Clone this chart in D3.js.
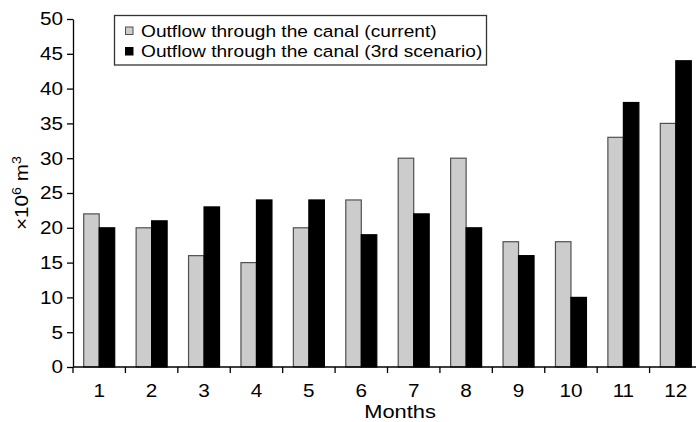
<!DOCTYPE html>
<html>
<head>
<meta charset="utf-8">
<script src="https://cdn.jsdelivr.net/npm/d3@7"></script>
<style>
  html, body { margin: 0; padding: 0; background: #fff; }
  svg { display: block; font-family: "Liberation Sans", Arial, Helvetica, sans-serif; }
</style>
</head>
<body>
<svg id="chart" width="696" height="422"></svg>
<script>
// Monthly outflow through the canal, in 10^6 m^3
const months = ["1", "2", "3", "4", "5", "6", "7", "8", "9", "10", "11", "12"];
const currentOutflow = [22, 20, 16, 15, 20, 24, 30, 30, 18, 18, 33, 35];
const scenario3Outflow = [20, 21, 23, 24, 24, 19, 22, 20, 16, 10, 38, 44];
const yTicks = [0, 5, 10, 15, 20, 25, 30, 35, 40, 45, 50];
const seriesNames = ["Outflow through the canal (current)", "Outflow through the canal (3rd scenario)"];

const svg = d3.select("#chart");
const plotLeft = 73, plotRight = 702, plotTop = 19, plotBottom = 367;
// the lettering is a slightly wide grotesque: stretch glyphs horizontally
const stretch = 1.12;

const x = d3.scaleBand().domain(months).range([plotLeft, plotRight]).paddingInner(0).paddingOuter(0);
const y = d3.scaleLinear().domain([0, 50]).range([plotBottom, plotTop]);

const barW = 15.5;
const series = [
  { values: currentOutflow, fill: "#cccccc", stroke: "#505050", offset: -barW },
  { values: scenario3Outflow, fill: "#000000", stroke: "#000000", offset: 0 }
];

// bars
series.forEach(s => {
  svg.append("g").selectAll("rect")
    .data(months)
    .join("rect")
    .attr("x", d => x(d) + x.bandwidth() / 2 + s.offset)
    .attr("y", (d, i) => y(s.values[i]))
    .attr("width", barW)
    .attr("height", (d, i) => y(0) - y(s.values[i]))
    .attr("fill", s.fill)
    .attr("stroke", s.stroke)
    .attr("stroke-width", 1.2);
});

// y axis
const yAxis = svg.append("g")
  .attr("transform", `translate(${plotLeft},0)`)
  .call(d3.axisLeft(y).tickValues(yTicks).tickSize(6).tickPadding(4).tickSizeOuter(0));
yAxis.selectAll("text")
  .attr("font-size", 18.5).attr("fill", "#000").style("font-family", "inherit")
  .attr("x", -10 / stretch)
  .attr("transform", `scale(${stretch},1)`);
yAxis.selectAll("line, path").attr("stroke", "#000").attr("stroke-width", 1.3);

// x axis: ticks sit on band edges, labels at band centres
const xAxisG = svg.append("g").attr("transform", `translate(0,${plotBottom})`);
xAxisG.append("line").attr("x1", plotLeft).attr("x2", plotRight).attr("stroke", "#000").attr("stroke-width", 1.3);
xAxisG.selectAll("line.tick")
  .data(months)
  .join("line")
  .attr("class", "tick")
  .attr("x1", d => x(d)).attr("x2", d => x(d))
  .attr("y1", 0).attr("y2", 6)
  .attr("stroke", "#000").attr("stroke-width", 1.3);
xAxisG.selectAll("text")
  .data(months)
  .join("text")
  .attr("transform", d => `translate(${x(d) + x.bandwidth() / 2},30) scale(${stretch},1)`)
  .attr("text-anchor", "middle")
  .attr("font-size", 18.5)
  .text(d => d);

// axis titles
svg.append("text")
  .attr("transform", `translate(400,418) scale(1.15,1)`)
  .attr("text-anchor", "middle")
  .attr("font-size", 19)
  .text("Months");

const yLabel = svg.append("text")
  .attr("transform", `translate(28,193) rotate(-90) scale(1.15,1)`)
  .attr("text-anchor", "middle")
  .attr("font-size", 18);
yLabel.append("tspan").text("×10");
yLabel.append("tspan").attr("font-size", 12.5).attr("dy", -7).text("6");
yLabel.append("tspan").attr("dy", 7).text(" m");
yLabel.append("tspan").attr("font-size", 12.5).attr("dy", -7).text("3");

// legend
const legend = svg.append("g");
legend.append("rect")
  .attr("x", 114.5).attr("y", 15.5).attr("width", 372).attr("height", 49.5)
  .attr("fill", "#fff").attr("stroke", "#333").attr("stroke-width", 1.3);
seriesNames.forEach((name, i) => {
  const base = 36.5 + i * 20.5;
  legend.append("rect")
    .attr("x", 125.5).attr("y", base - 9.5).attr("width", 7.5).attr("height", 7.5)
    .attr("fill", series[i].fill).attr("stroke", series[i].stroke).attr("stroke-width", 1);
  legend.append("text")
    .attr("transform", `translate(141,${base}) scale(1.16,1)`)
    .attr("font-size", 16.5)
    .text(name);
});
</script>
</body>
</html>
